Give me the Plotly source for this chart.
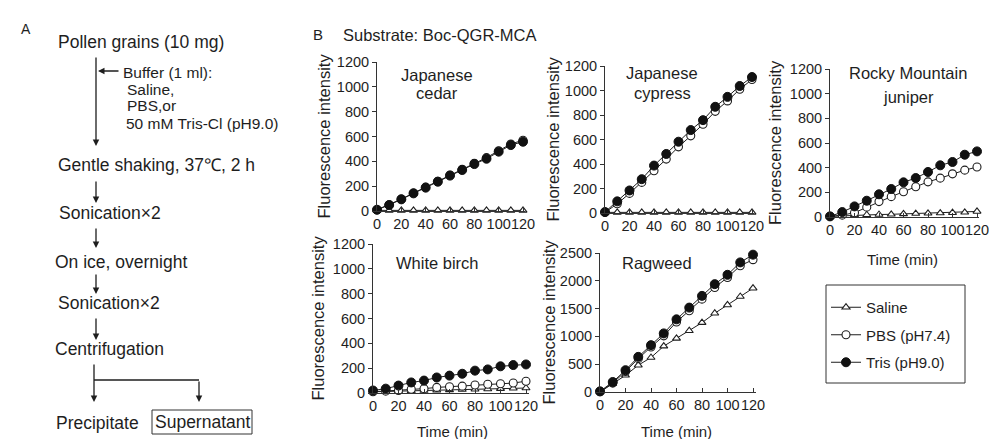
import plotly.graph_objects as go

W, H = 989, 439

# ---------------- data ----------------
time_min = [0, 10, 20, 30, 40, 50, 60, 70, 80, 90, 100, 110, 120]
series_names = ["Saline", "PBS (pH7.4)", "Tris (pH9.0)"]

cedar_saline = [5, 5, 5, 5, 5, 5, 5, 5, 5, 5, 5, 5, 5]
cedar_pbs = [10, 50, 96, 145, 192, 240, 290, 336, 385, 430, 485, 540, 570]
cedar_tris = [10, 48, 94, 142, 188, 236, 285, 330, 378, 421, 478, 531, 558]

cypress_saline = [5, 5, 5, 5, 5, 5, 5, 5, 5, 5, 5, 5, 5]
cypress_pbs = [5, 75, 160, 250, 345, 440, 540, 630, 725, 830, 915, 1010, 1090]
cypress_tris = [8, 95, 184, 276, 387, 482, 582, 677, 758, 867, 948, 1037, 1110]

juniper_saline = [5, 10, 15, 18, 20, 22, 25, 28, 30, 32, 35, 38, 45]
juniper_pbs = [5, 15, 35, 80, 125, 165, 205, 245, 285, 315, 350, 380, 405]
juniper_tris = [5, 40, 86, 132, 184, 227, 281, 316, 365, 419, 446, 505, 532]

birch_saline = [10, 12, 15, 18, 20, 22, 25, 28, 30, 32, 35, 38, 40]
birch_pbs = [10, 15, 20, 30, 35, 45, 50, 55, 65, 70, 75, 80, 95]
birch_tris = [20, 35, 60, 85, 100, 125, 140, 155, 180, 190, 215, 225, 230]

ragweed_saline = [0, 150, 300, 482, 620, 825, 964, 1102, 1247, 1416, 1566, 1717, 1867]
ragweed_pbs = [5, 160, 370, 600, 810, 1010, 1260, 1460, 1670, 1880, 2060, 2270, 2380]
ragweed_tris = [12, 180, 392, 632, 843, 1054, 1307, 1518, 1729, 1940, 2108, 2331, 2470]

panel_titles = [["Japanese", "cedar"], ["Japanese", "cypress"],
                ["Rocky Mountain", "juniper"], ["White birch"], ["Ragweed"]]
y_ticks_1200 = [0, 200, 400, 600, 800, 1000, 1200]
y_ticks_2500 = [0, 500, 1000, 1500, 2000, 2500]
x_ticks = [0, 20, 40, 60, 80, 100, 120]

panel_data = [
    [cedar_saline, cedar_pbs, cedar_tris],
    [cypress_saline, cypress_pbs, cypress_tris],
    [juniper_saline, juniper_pbs, juniper_tris],
    [birch_saline, birch_pbs, birch_tris],
    [ragweed_saline, ragweed_pbs, ragweed_tris],
]
panel_ymax = [1200, 1200, 1200, 1200, 2500]
panel_yticks = [y_ticks_1200, y_ticks_1200, y_ticks_1200, y_ticks_1200, y_ticks_2500]

# ---------------- layout helpers (pixel positions) ----------------
def px(x):
    return x / W

def py(y):
    return 1 - y / H

FONT = "Liberation Sans, Arial, sans-serif"
INK = "#1e1e1e"

# x pixel of t=0, x pixel of t=120, y pixel of 0, y pixel of ymax
geom = [
    (377, 523, 211, 62),
    (605, 752, 213, 66),
    (830, 977, 217, 69),
    (373, 526, 393, 244),
    (600, 753, 392, 253),
]
title_pos = [(437, [75, 93]), (662, [73, 93]), (908, [73, 97]), (437, [263]), (657, [263])]
ytitle_x = [323, 553, 775, 317, 548]
xtitle_pos = {2: (902, 259), 3: (452, 431), 4: (676, 431)}

marker_styles = [
    dict(symbol="triangle-up", size=7, color="white", line=dict(color=INK, width=1.1)),
    dict(symbol="circle", size=8, color="white", line=dict(color=INK, width=1.1)),
    dict(symbol="circle", size=9, color="#111111", line=dict(color="#111111", width=1)),
]

fig = go.Figure()
layout = dict(
    width=W, height=H,
    margin=dict(l=0, r=0, t=0, b=0, autoexpand=False),
    paper_bgcolor="white", plot_bgcolor="rgba(0,0,0,0)",
    font=dict(family=FONT, color=INK, size=14),
)
annotations = []
shapes = []

for i in range(5):
    n = i + 1
    xa = "x" if n == 1 else f"x{n}"
    ya = "y" if n == 1 else f"y{n}"
    x0, x120, y0, ytop = geom[i]
    s = (x120 - x0) / 120.0
    layout["xaxis" if n == 1 else f"xaxis{n}"] = dict(
        domain=[px(x0), px(x0 + 122 * s)], range=[0, 122], anchor=ya,
        showline=True, linecolor="#333", linewidth=1, showgrid=False, zeroline=False,
        ticks="inside", ticklen=4, tickcolor="#333", tickvals=x_ticks,
        tickangle=0, automargin=False, ticklabeloverflow="allow",
        tickfont=dict(size=14.5, family=FONT, color=INK),
    )
    layout["yaxis" if n == 1 else f"yaxis{n}"] = dict(
        domain=[py(y0), py(ytop)], range=[0, panel_ymax[i]], anchor=xa,
        showline=True, linecolor="#333", linewidth=1, showgrid=False, zeroline=False,
        ticks="outside", ticklen=4, tickcolor="#333", tickvals=panel_yticks[i],
        automargin=False, ticklabeloverflow="allow",
        tickfont=dict(size=14.5, family=FONT, color=INK),
    )
    for k in range(3):
        fig.add_trace(go.Scatter(
            x=time_min, y=panel_data[i][k], xaxis=xa, yaxis=ya,
            mode="lines+markers", name=series_names[k],
            line=dict(color=INK, width=1), marker=marker_styles[k],
            showlegend=(i == 0), legendgroup=series_names[k], cliponaxis=False,
        ))
    # panel titles
    cx, ys = title_pos[i]
    for line, yy in zip(panel_titles[i], ys):
        annotations.append(dict(text=line, x=px(cx), y=py(yy), xref="paper", yref="paper",
                                showarrow=False, xanchor="center", yanchor="middle",
                                font=dict(size=16.5)))
    # y titles
    annotations.append(dict(text="Fluorescence intensity", x=px(ytitle_x[i]),
                            y=(py(y0) + py(ytop)) / 2, xref="paper", yref="paper",
                            showarrow=False, textangle=-90, xanchor="center", yanchor="middle",
                            font=dict(size=16.5)))
    if i in xtitle_pos:
        tx, ty = xtitle_pos[i]
        annotations.append(dict(text="Time (min)", x=px(tx), y=py(ty), xref="paper", yref="paper",
                                showarrow=False, xanchor="center", yanchor="middle",
                                font=dict(size=15)))

# panel labels and header
annotations.append(dict(text="A", x=px(19), y=py(19), xref="paper", yref="paper",
                        showarrow=False, font=dict(size=14)))
annotations.append(dict(text="B", x=px(311), y=py(24), xref="paper", yref="paper",
                        showarrow=False, font=dict(size=15)))
annotations.append(dict(text="Substrate: Boc-QGR-MCA", x=px(341), y=py(24), xref="paper", yref="paper",
                        showarrow=False, xanchor="left", font=dict(size=16.5)))

# flowchart text
flow_text = [
    ("Pollen grains (10 mg)", 56, 42, 17.5),
    ("Buffer (1 ml):", 121, 72, 15.5),
    ("Saline,", 125, 89, 15.5),
    ("PBS,or", 125, 106, 15.5),
    ("50 mM Tris-Cl (pH9.0)", 124, 123, 15.5),
    ("Gentle shaking, 37℃, 2 h", 56, 165, 17.5),
    ("Sonication×2", 57, 213, 17.5),
    ("On ice, overnight", 53, 262, 17.5),
    ("Sonication×2", 56, 303, 17.5),
    ("Centrifugation", 53, 349, 17.5),
    ("Precipitate", 54, 423, 17.5),
]
for t, x, y, fs in flow_text:
    annotations.append(dict(text=t, x=px(x), y=py(y), xref="paper", yref="paper",
                            showarrow=False, xanchor="left", yanchor="middle",
                            font=dict(size=fs)))
annotations.append(dict(text="Supernatant", x=px(202), y=py(422), xref="paper", yref="paper",
                        showarrow=False, xanchor="center", yanchor="middle", font=dict(size=17.5)))
shapes.append(dict(type="rect", xref="paper", yref="paper", x0=px(152), x1=px(252),
                   y0=py(434), y1=py(410), line=dict(color="#333", width=1)))

# arrows: (head x, head y, tail x, tail y)
arrows = [
    (96, 146, 96, 56),
    (98, 71, 120, 71),
    (96, 203, 96, 180),
    (96, 248, 96, 227),
    (96, 294, 96, 273),
    (96, 340, 96, 317),
    (94, 402, 94, 363),
    (199, 402, 199, 380),
]
for hx, hy, tx, ty in arrows:
    annotations.append(dict(text="", x=px(hx), y=py(hy), xref="paper", yref="paper",
                            showarrow=True, ax=tx - hx, ay=ty - hy, arrowhead=2,
                            arrowsize=1, arrowwidth=1.3, arrowcolor=INK, standoff=0,
                            startstandoff=0))
shapes.append(dict(type="line", xref="paper", yref="paper", x0=px(94), x1=px(199),
                   y0=py(380), y1=py(380), line=dict(color=INK, width=1.3)))

# legend box
shapes.append(dict(type="rect", xref="paper", yref="paper", x0=px(826), x1=px(965),
                   y0=py(383), y1=py(285), line=dict(color="#333", width=1)))
layout["legend"] = dict(x=px(826), y=py(291), xanchor="left", yanchor="top",
                        bgcolor="rgba(0,0,0,0)", borderwidth=0, itemwidth=30,
                        font=dict(size=15, family=FONT, color=INK), tracegroupgap=5)
layout["showlegend"] = True
layout["annotations"] = annotations
layout["shapes"] = shapes
fig.update_layout(**layout)

fig.write_html("out.html", config={"displayModeBar": False},
               post_script="document.body.style.margin='0';document.body.style.padding='0';")
